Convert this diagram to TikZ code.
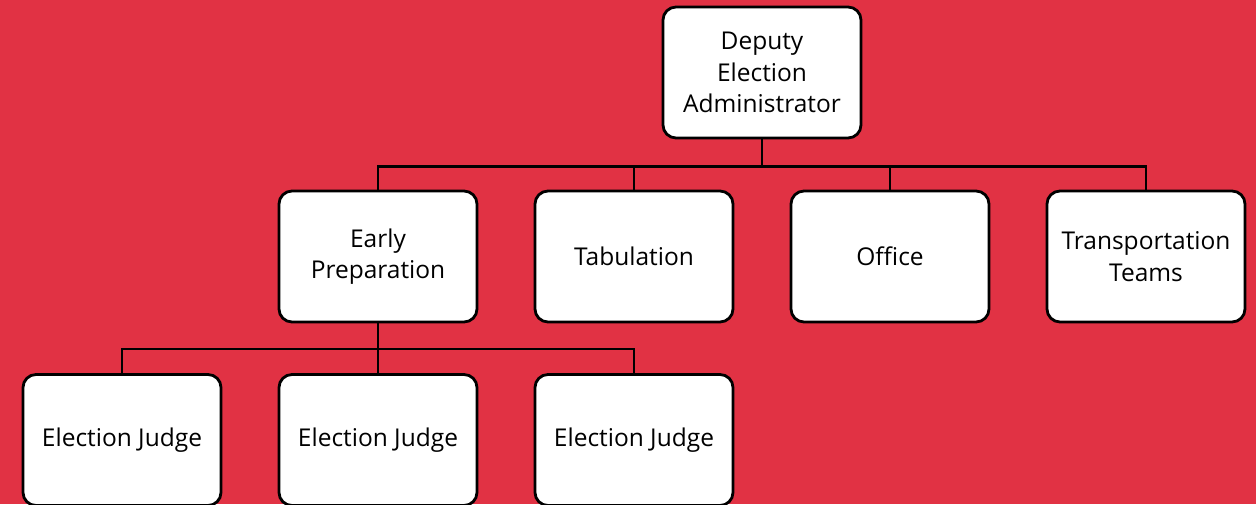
\documentclass[tikz,border=0pt]{standalone}
\usepackage{fontspec}
\setmainfont{Open Sans}
\definecolor{bg}{HTML}{E13244}
\begin{document}
\begin{tikzpicture}[x=1pt,y=-1pt,
  box/.style={draw=black,fill=white,line width=2.8pt,rounded corners=13pt,
    minimum width=198pt,minimum height=131pt,align=center,inner sep=0pt,
    font=\fontsize{24.5}{31.5}\selectfont},
  conn/.style={draw=black,line width=2.8pt}]
\fill[bg] (0,0) rectangle (1256,504);
\useasboundingbox (0,0) rectangle (1256,504);
\node[box] (top) at (762,72.5) {Deputy\\Election\\Administrator};
\node[box] (ep) at (378,256.5) {Early\\Preparation};
\node[box] (tab) at (634,256.5) {Tabulation};
\node[box] (off) at (890,256.5) {Office};
\node[box] (tr) at (1146,256.5) {Transportation\\Teams};
\node[box] (j1) at (122,440) {Election Judge};
\node[box] (j2) at (378,440) {Election Judge};
\node[box] (j3) at (634,440) {Election Judge};
\foreach \c in {ep,tab,off,tr}
  \draw[conn] (top.south) -- ++(0,27) -| (\c.north);
\foreach \c in {j1,j2,j3}
  \draw[conn] (ep.south) -- ++(0,25.5) -| (\c.north);
\end{tikzpicture}
\end{document}
